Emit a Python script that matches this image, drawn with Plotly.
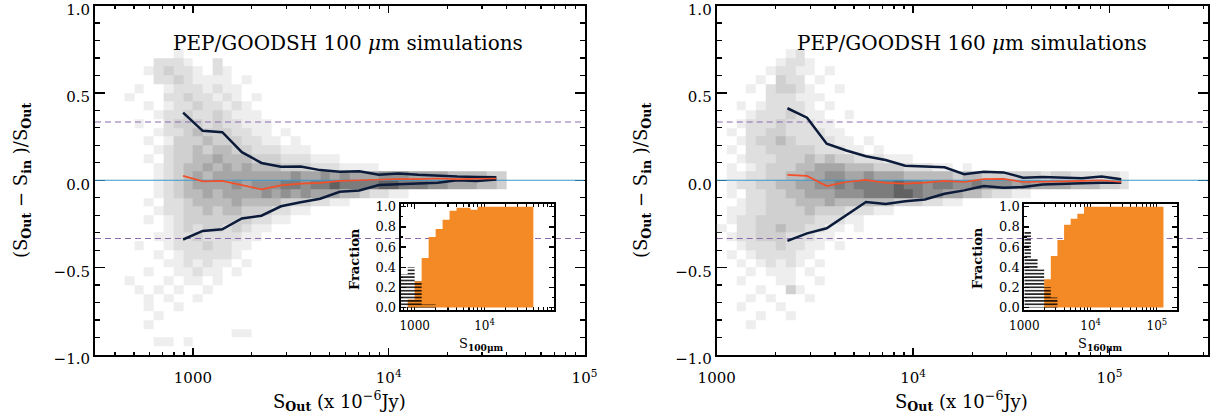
import numpy as np
import plotly.graph_objects as go

# ======================= DATA =======================
hist100_logx0 = 2.60
hist100_ncols = 42
hist100_rows = [
    "0000001",
    "00002221002",
    "0001232210210",
    "00002232111101",
    "00100122212110",
    "010002232212101",
    "00010122322121",
    "000012232232111",
    "0010023332322111",
    "000012234333221101",
    "0001013334333221101",
    "00001233434433222111",
    "00010233445444333222111",
    "000012344545454443332221111",
    "00001" + "23454555555556556565556665555444433",
    "00001" + "23455556566677677877778877766555443",
    "0000" + "12344545555656565554432211",
    "000" + "102234444544443332211",
    "0000" + "1223343443332211",
    "000" + "101233333332211",
    "00000" + "12323323211",
    "0000" + "11223222211",
    "00100" + "122232211",
    "0000101222221",
    "00000112121101",
    "0001001121101",
    "01000101101",
    "0010101001",
    "000101001",
    "0001001",
    "00001",
    "0001",
    "00000000000011",
    "00001101",
]

hist160_logx0 = 3.00
hist160_ncols = 44
hist160_rows = [
    "000000012",
    "0000001221",
    "000001221101",
    "00001032201",
    "0001023321001",
    "00000222111",
    "001012222101",
    "00012223211001",
    "001222322211",
    "0102233222211",
    "0012334322221101",
    "01022333332221101",
    "00122233343433222111",
    "01012333445554443332221101",
    "011223344556655655544444344333333233" + "222221",
    "012233445566767777877677667666565555" + "444332",
    "010223344555666777887665" + "54432211",
    "001223334445444444" + "3332211",
    "011223333433322211",
    "012233333322211",
    "102233433221101",
    "012233322211",
    "0012223221101",
    "0101222211",
    "00101212101",
    "0001011101",
    "00100011001",
    "000010031",
    "0001010001",
    "0010001",
    "00001001",
    "0001",
    "",
    "",
]
hist_ytop = 0.75
hist_dy = 0.05
hist_dlogx = 0.05

s100_x = [891, 1122, 1413, 1778, 2239, 2818, 3548, 4467, 5623, 7079, 8913,
          11220, 14125, 17783, 22387, 28184, 35481]
s100_upper = [0.387, 0.283, 0.275, 0.161, 0.099, 0.077, 0.079, 0.058, 0.048,
              0.052, 0.031, 0.039, 0.031, 0.025, 0.021, 0.019, 0.017]
s100_lower = [-0.339, -0.290, -0.281, -0.219, -0.203, -0.149, -0.126, -0.106,
              -0.066, -0.058, -0.027, -0.025, -0.019, -0.014, 0.000, -0.004, 0.004]
s100_median = [0.025, -0.006, -0.004, -0.029, -0.052, -0.029, -0.019, -0.015,
               -0.004, 0.000, 0.004, 0.006, 0.006, 0.010, 0.006, 0.010, 0.010]

s160_x = [2291, 2884, 3631, 4571, 5754, 7244, 9120, 11482, 14454, 18197, 22909,
          28840, 36308, 45709, 57544, 72444, 91201, 114815]
s160_upper = [0.412, 0.358, 0.209, 0.170, 0.137, 0.116, 0.083, 0.079, 0.074,
              0.035, 0.048, 0.045, 0.015, 0.019, 0.015, 0.012, 0.021, 0.006]
s160_lower = [-0.347, -0.304, -0.275, -0.197, -0.124, -0.136, -0.120, -0.110,
              -0.077, -0.058, -0.033, -0.043, -0.039, -0.025, -0.023, -0.017,
              -0.014, -0.014]
s160_median = [0.031, 0.025, -0.033, -0.010, 0.002, -0.015, -0.019, -0.014,
               -0.004, -0.010, 0.006, 0.008, -0.010, -0.006, -0.006, -0.004,
               0.000, -0.010]

ref_zero = 0.0
ref_band = [1 / 3, -1 / 3]

inset100_orange_logedges = [2.9, 3.0, 3.1, 3.2, 3.3, 3.4, 3.5, 3.6, 3.7, 3.8,
                            3.9, 4.0, 4.1, 4.2, 4.3, 4.4, 4.5, 4.6, 4.7]
inset100_orange = [0.08, 0.26, 0.49, 0.70, 0.78, 0.87, 0.96, 0.99, 0.99, 0.97,
                   1.0, 1.0, 1.0, 1.0, 1.0, 1.0, 1.0, 1.0]
inset100_hatch_logedges = [2.8, 2.9, 3.0, 3.1, 3.2, 3.3]
inset100_hatch = [0.33, 0.40, 0.26, 0.03, 0.03]

inset160_orange_logedges = [3.3, 3.4, 3.5, 3.6, 3.7, 3.8, 3.9, 4.0, 4.1, 4.2,
                            4.3, 4.4, 4.5, 4.6, 4.7, 4.8, 4.9, 5.0, 5.1]
inset160_orange = [0.28, 0.51, 0.67, 0.82, 0.88, 0.93, 1.0, 1.0, 1.0, 1.0,
                   1.0, 1.0, 1.0, 1.0, 1.0, 1.0, 1.0, 1.0]
inset160_hatch_logedges = [3.0, 3.1, 3.2, 3.3, 3.4, 3.5]
inset160_hatch = [0.75, 0.48, 0.38, 0.20, 0.10]

main_xticks = [1000, 1e4, 1e5]
main_xticktext = ["1000", "10<sup>4</sup>", "10<sup>5</sup>"]
inset100_xticks = [1000, 1e4]
inset100_xticktext = ["1000", "10<sup>4</sup>"]
inset160_xticks = [1000, 1e4, 1e5]
inset160_xticktext = ["1000", "10<sup>4</sup>", "10<sup>5</sup>"]

# ======================= STYLE =======================
W, H = 1211, 416
SERIF = "DejaVu Serif"
NAVY = "#0c1b3a"
RED = "#f2502a"
ZBLUE = "#3b97c9"
PURPLE = "#8a6aac"
ORANGE = "#f48a25"
GREYS = [[0.0, "#eeeeee"], [0.25, "#d0d0d0"], [0.5, "#a6a6a6"],
         [0.75, "#7c7c7c"], [1.0, "#484848"]]


def px_x(p):
    return p / W


def px_y(p):
    return 1 - p / H


def grid(rows, ncols):
    z = []
    for r in rows:
        r = r.ljust(ncols, "0")[:ncols]
        z.append([None if ch == "0" else int(ch) for ch in r])
    return z[::-1]


def minor_logs(lo, hi):
    return [m * 10 ** e for e in range(lo, hi) for m in range(2, 10)]


fig = go.Figure()


def add_panel(xa, ya, rows, ncols, logx0, sx, up, lo, med, xr):
    z = grid(rows, ncols)
    nrows = len(rows)
    xedges = 10 ** (logx0 + hist_dlogx * np.arange(ncols + 1))
    yedges = hist_ytop - hist_dy * nrows + hist_dy * np.arange(nrows + 1)
    fig.add_trace(go.Heatmap(x=xedges, y=yedges, z=z, zmin=1, zmax=9,
                             colorscale=GREYS, showscale=False, hoverinfo="skip",
                             xaxis=xa, yaxis=ya))
    xs = [10 ** xr[0], 10 ** xr[1]]
    fig.add_trace(go.Scatter(x=xs, y=[ref_zero] * 2, mode="lines",
                             line=dict(color=ZBLUE, width=1.2),
                             xaxis=xa, yaxis=ya, hoverinfo="skip"))
    for lv in ref_band:
        fig.add_trace(go.Scatter(x=xs, y=[lv] * 2, mode="lines",
                                 line=dict(color=PURPLE, width=1.2, dash="6px,4px"),
                                 xaxis=xa, yaxis=ya, hoverinfo="skip"))
    for yy in (up, lo):
        fig.add_trace(go.Scatter(x=sx, y=yy, mode="lines",
                                 line=dict(color=NAVY, width=2.5),
                                 xaxis=xa, yaxis=ya, hoverinfo="skip"))
    fig.add_trace(go.Scatter(x=sx, y=med, mode="lines",
                             line=dict(color=RED, width=1.7),
                             xaxis=xa, yaxis=ya, hoverinfo="skip"))


def add_inset(xa, ya, oedges, ovals, hedges, hvals):
    ox = [10 ** e for e in oedges]
    fig.add_trace(go.Scatter(x=ox, y=list(ovals) + [ovals[-1]], mode="lines",
                             line=dict(width=0, shape="hv", color=ORANGE),
                             fill="tozeroy", fillcolor=ORANGE,
                             xaxis=xa, yaxis=ya, hoverinfo="skip"))
    hx = [10 ** e for e in hedges]
    fig.add_trace(go.Scatter(x=hx, y=list(hvals) + [hvals[-1]], mode="lines",
                             line=dict(width=0, shape="hv", color="black"),
                             fill="tozeroy", fillcolor="rgba(0,0,0,0)",
                             fillpattern=dict(shape="-", fgcolor="black",
                                              bgcolor="rgba(0,0,0,0)",
                                              size=3.4, solidity=0.42),
                             xaxis=xa, yaxis=ya, hoverinfo="skip"))


add_panel("x", "y", hist100_rows, hist100_ncols, hist100_logx0,
          s100_x, s100_upper, s100_lower, s100_median, (2.5, 5.0))
add_panel("x2", "y2", hist160_rows, hist160_ncols, hist160_logx0,
          s160_x, s160_upper, s160_lower, s160_median, (3.0, 5.5))
add_inset("x3", "y3", inset100_orange_logedges, inset100_orange,
          inset100_hatch_logedges, inset100_hatch)
add_inset("x4", "y4", inset160_orange_logedges, inset160_orange,
          inset160_hatch_logedges, inset160_hatch)

TF15 = dict(family=SERIF, size=15, color="black")
FRAME = dict(showgrid=False, zeroline=False, automargin=False,
             ticklabeloverflow="allow", showline=True, linewidth=2,
             linecolor="black", mirror="allticks", ticks="inside",
             tickcolor="black", layer="below traces")


def xaxis_main(dom, rng, anchor, lo, hi):
    return dict(FRAME, type="log", domain=dom, range=rng, anchor=anchor,
                tickmode="array", tickvals=main_xticks, ticktext=main_xticktext,
                ticklen=7, tickwidth=1.5, tickfont=TF15, ticklabelstandoff=8,
                minor=dict(ticks="inside", ticklen=3.5, tickwidth=1.3,
                           tickcolor="black", tickmode="array",
                           tickvals=minor_logs(lo, hi), showgrid=False))


def yaxis_main(anchor):
    return dict(FRAME, domain=[px_y(355), px_y(5.5)], range=[-1, 1],
                anchor=anchor, tick0=0, dtick=0.5, tickformat=".1f",
                ticklen=10, tickwidth=1.5, tickfont=TF15, ticklabelshift=4,
                minor=dict(ticks="inside", ticklen=5, tickwidth=1.3,
                           tickcolor="black", dtick=0.1, showgrid=False))


def xaxis_inset(dom, rng, tv, tt, anchor, lo, hi):
    return dict(FRAME, type="log", domain=dom, range=rng, anchor=anchor,
                tickmode="array", tickvals=tv, ticktext=tt, ticklen=5,
                tickwidth=1.3, ticklabelstandoff=4,
                tickfont=dict(family=SERIF, size=12, color="black"),
                minor=dict(ticks="inside", ticklen=2.5, tickwidth=1.1,
                           tickcolor="black", tickmode="array",
                           tickvals=minor_logs(lo, hi), showgrid=False))


def yaxis_inset(anchor):
    return dict(FRAME, domain=[px_y(309.5), px_y(204)], range=[-0.02, 1.027],
                anchor=anchor, tick0=0, dtick=0.2, tickformat=".1f",
                ticklen=5, tickwidth=1.3,
                tickfont=dict(family=SERIF, size=13, color="black"),
                minor=dict(ticks="inside", ticklen=2.5, tickwidth=1.1,
                           tickcolor="black", dtick=0.1, showgrid=False))


fig.update_layout(
    template="none",
    width=W, height=H, margin=dict(l=0, r=0, t=0, b=0, pad=0),
    paper_bgcolor="white", plot_bgcolor="rgba(0,0,0,0)", showlegend=False,
    font=dict(family=SERIF, color="black"),
    xaxis=xaxis_main([px_x(95), px_x(584.5)], [2.5, 5.0], "y", 2, 5),
    yaxis=yaxis_main("x"),
    xaxis2=xaxis_main([px_x(716.7), px_x(1207.7)], [3.0, 5.5], "y2", 3, 6),
    yaxis2=yaxis_main("x2"),
    xaxis3=xaxis_inset([px_x(400.7), px_x(554.3)], [2.8, 5.0], inset100_xticks,
                       inset100_xticktext, "y3", 2, 5),
    yaxis3=yaxis_inset("x3"),
    xaxis4=xaxis_inset([px_x(1024.3), px_x(1176.7)], [3.0, 5.3], inset160_xticks,
                       inset160_xticktext, "y4", 3, 6),
    yaxis4=yaxis_inset("x4"),
)


def ann(text, x, y, size, angle=0):
    fig.add_annotation(text=text, x=px_x(x), y=px_y(y), xref="paper",
                       yref="paper", showarrow=False, xanchor="center",
                       yanchor="middle", textangle=angle,
                       font=dict(family=SERIF, size=size, color="black"))


ann("PEP/GOODSH 100 <i>μ</i>m simulations", 348, 43, 20)
ann("PEP/GOODSH 160 <i>μ</i>m simulations", 972, 43, 20)
xt = "S<sub><b>Out</b></sub> (x 10<sup>−6</sup>Jy)"
ann(xt, 339.7, 401, 18)
ann(xt, 962, 401, 18)
yt = "(S<sub><b>Out</b></sub> − S<sub><b>in</b></sub> )/S<sub><b>Out</b></sub>"
ann(yt, 22, 181, 18, -90)
ann(yt, 642, 181, 18, -90)
ann("<b>Fraction</b>", 354, 259, 13, -90)
ann("<b>Fraction</b>", 977, 258, 13, -90)
ann("S<sub><b>100μm</b></sub>", 481.5, 344, 13)
ann("S<sub><b>160μm</b></sub>", 1100, 344, 13)

fig.write_html(
    "out.html",
    config={"displayModeBar": False, "staticPlot": True},
    post_script="document.body.style.margin='0px';"
                "document.body.style.overflow='hidden';",
)
